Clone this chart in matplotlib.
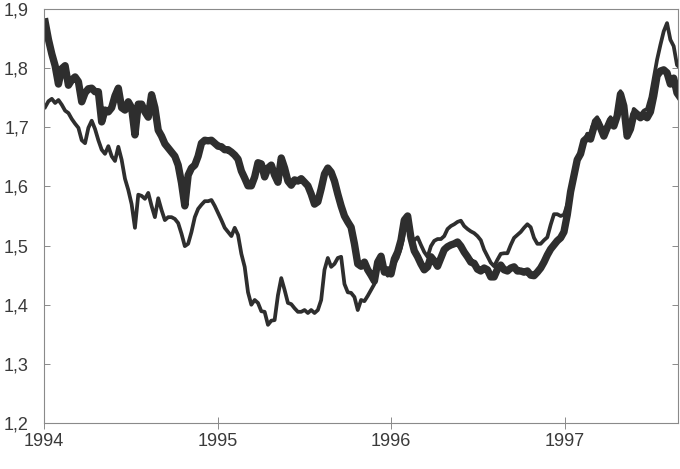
import matplotlib.pyplot as plt
import matplotlib.dates as mdates
import pandas as pd

# weekly readings, first week of January 1994 to end of August 1997
thick = [1.878, 1.848, 1.824, 1.804, 1.773, 1.799, 1.804, 1.771, 1.780, 1.785,
         1.777, 1.743, 1.758, 1.765, 1.766, 1.760, 1.760, 1.709, 1.729, 1.726,
         1.733, 1.753, 1.766, 1.733, 1.729, 1.743, 1.733, 1.687, 1.739, 1.739,
         1.726, 1.717, 1.755, 1.733, 1.695, 1.685, 1.672, 1.665, 1.658, 1.651,
         1.636, 1.606, 1.567, 1.619, 1.631, 1.636, 1.651, 1.673, 1.678, 1.677,
         1.678, 1.673, 1.668, 1.667, 1.662, 1.662, 1.658, 1.653, 1.646, 1.626,
         1.614, 1.601, 1.601, 1.616, 1.640, 1.638, 1.616, 1.631, 1.636, 1.619,
         1.607, 1.648, 1.631, 1.609, 1.602, 1.611, 1.609, 1.613, 1.607, 1.601,
         1.587, 1.570, 1.574, 1.596, 1.621, 1.631, 1.624, 1.609, 1.587, 1.567,
         1.550, 1.540, 1.531, 1.503, 1.469, 1.465, 1.472, 1.459, 1.450, 1.440,
         1.472, 1.482, 1.455, 1.459, 1.452, 1.477, 1.489, 1.509, 1.543, 1.550,
         1.513, 1.491, 1.481, 1.469, 1.459, 1.464, 1.481, 1.474, 1.465, 1.479,
         1.493, 1.498, 1.501, 1.503, 1.506, 1.499, 1.489, 1.481, 1.472, 1.470,
         1.460, 1.457, 1.462, 1.459, 1.447, 1.447, 1.460, 1.467, 1.459, 1.457,
         1.462, 1.464, 1.457, 1.457, 1.455, 1.457, 1.450, 1.449, 1.455, 1.462,
         1.472, 1.484, 1.494, 1.501, 1.508, 1.513, 1.523, 1.552, 1.591, 1.618,
         1.645, 1.655, 1.677, 1.682, 1.680, 1.700, 1.711, 1.699, 1.685, 1.699,
         1.712, 1.702, 1.719, 1.756, 1.736, 1.685, 1.697, 1.722, 1.721, 1.716,
         1.721, 1.716, 1.726, 1.753, 1.787, 1.795, 1.797, 1.792, 1.773, 1.783,
         1.758, 1.750]

thin = [1.734, 1.744, 1.748, 1.741, 1.746, 1.738, 1.728, 1.724, 1.714, 1.706,
        1.699, 1.678, 1.673, 1.699, 1.711, 1.697, 1.678, 1.662, 1.655, 1.668,
        1.651, 1.643, 1.667, 1.645, 1.613, 1.594, 1.570, 1.530, 1.586, 1.584,
        1.579, 1.589, 1.567, 1.548, 1.580, 1.560, 1.543, 1.548, 1.548, 1.545,
        1.538, 1.520, 1.499, 1.503, 1.523, 1.548, 1.562, 1.569, 1.575, 1.575,
        1.577, 1.567, 1.555, 1.543, 1.530, 1.523, 1.516, 1.530, 1.518, 1.486,
        1.464, 1.421, 1.400, 1.408, 1.403, 1.389, 1.388, 1.366, 1.373, 1.374,
        1.416, 1.445, 1.425, 1.403, 1.401, 1.394, 1.388, 1.388, 1.391, 1.386,
        1.391, 1.386, 1.391, 1.408, 1.459, 1.479, 1.464, 1.469, 1.479, 1.481,
        1.435, 1.421, 1.420, 1.413, 1.391, 1.408, 1.406, 1.415, 1.425, 1.435,
        1.472, 1.474, 1.457, 1.449, 1.459, 1.469, 1.479, 1.496, 1.523, 1.536,
        1.516, 1.509, 1.514, 1.501, 1.489, 1.481, 1.499, 1.508, 1.511, 1.511,
        1.516, 1.528, 1.533, 1.536, 1.540, 1.542, 1.533, 1.528, 1.524, 1.521,
        1.516, 1.509, 1.493, 1.482, 1.471, 1.465, 1.476, 1.486, 1.487, 1.487,
        1.501, 1.513, 1.518, 1.523, 1.530, 1.536, 1.531, 1.513, 1.503, 1.503,
        1.509, 1.514, 1.535, 1.553, 1.553, 1.550, 1.552, 1.569, 1.589, 1.618,
        1.643, 1.662, 1.675, 1.689, 1.689, 1.711, 1.717, 1.704, 1.692, 1.704,
        1.717, 1.707, 1.724, 1.761, 1.743, 1.692, 1.706, 1.731, 1.726, 1.721,
        1.728, 1.731, 1.751, 1.783, 1.814, 1.839, 1.862, 1.876, 1.848, 1.837,
        1.805, 1.800]

yticks = [1.2, 1.3, 1.4, 1.5, 1.6, 1.7, 1.8, 1.9]

dates = pd.date_range('1994-01-03', periods=len(thick), freq='W-MON')

plt.rcParams['font.family'] = ['Liberation Sans', 'DejaVu Sans']

fig = plt.figure(figsize=(6.8, 4.69), dpi=100)
ax = fig.add_axes([0.065, 0.098, 0.932, 0.883])

ax.plot(dates, thin, color='#2e2e2e', lw=2.7, solid_joinstyle='round')
ax.plot(dates, thick, color='#2e2e2e', lw=5.3, solid_joinstyle='round')

ax.set_xlim(pd.Timestamp('1994-01-01'), pd.Timestamp('1997-08-27'))
ax.set_ylim(1.2, 1.9)
ax.set_yticks(yticks)
ax.set_yticklabels([f'{v:.1f}'.replace('.', ',') for v in yticks])
ax.xaxis.set_major_locator(mdates.YearLocator())
ax.xaxis.set_major_formatter(mdates.DateFormatter('%Y'))

for s in ax.spines.values():
    s.set_color('#8a8a8a')
    s.set_linewidth(0.8)

ax.tick_params(axis='y', direction='in', length=4, width=0.7, color='#8a8a8a',
               left=True, right=True, pad=11, labelsize=13, labelcolor='#3a3a3a')
ax.tick_params(axis='x', direction='inout', length=8, width=0.7, color='#8a8a8a',
               pad=3, labelsize=13, labelcolor='#3a3a3a')

fig.savefig('out.png', dpi=100)
